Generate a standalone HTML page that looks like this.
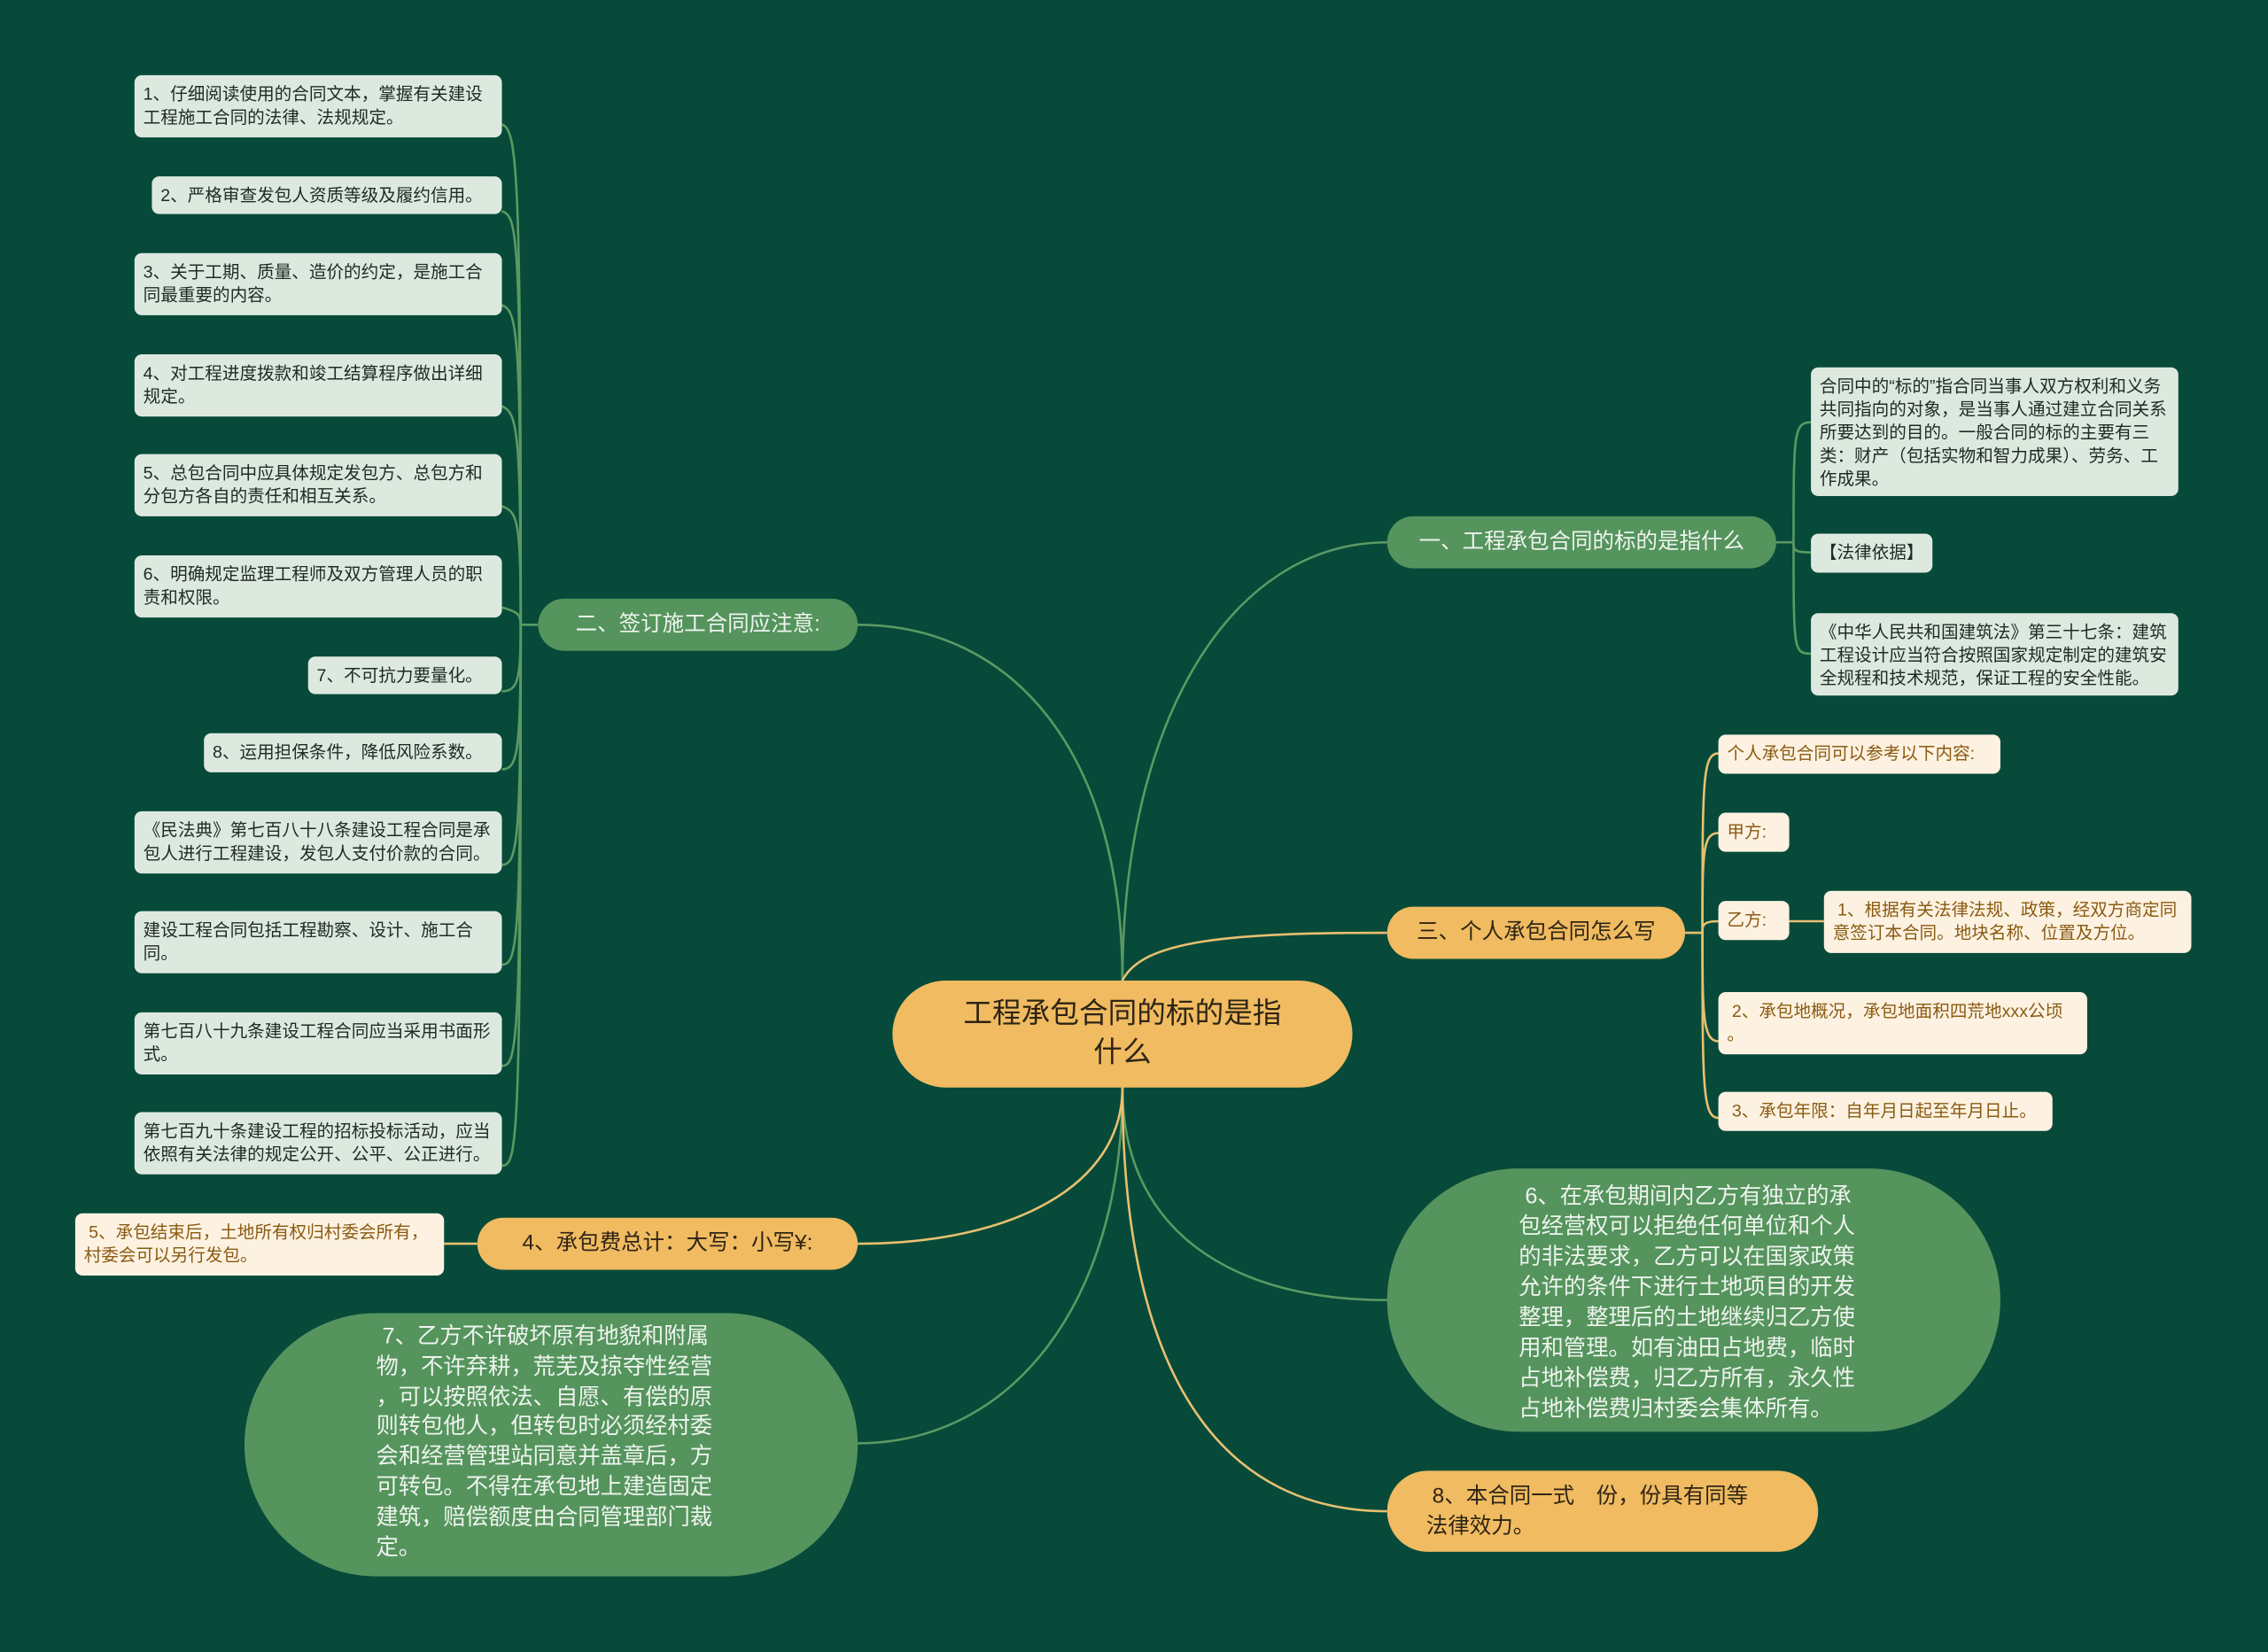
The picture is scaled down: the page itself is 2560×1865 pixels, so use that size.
<!DOCTYPE html>
<html><head><meta charset="utf-8"><style>
html,body{margin:0;padding:0;background:#074a3a;}
#wrap{position:relative;width:2560px;height:1865px;overflow:hidden;background:#074a3a;}
#s{position:absolute;left:0;top:0;width:1568px;height:1142px;transform:scale(1.632653);transform-origin:0 0;font-family:"Liberation Sans","Noto Sans CJK SC",sans-serif;}
.n{position:absolute;box-sizing:border-box;}
.lf{background:#dde9df;color:#1e2a22;font-size:12px;line-height:16px;border-radius:5px;padding:5px 6px;}
.cr{background:#fdf2e1;color:#8a5a12;font-size:12px;line-height:16px;border-radius:5px;padding:5px 6px;}
.gb{background:#55945d;color:#eef4ee;font-size:15px;border-radius:18px;text-align:center;line-height:36px;}
.ob{background:#f0bb61;color:#2e2414;font-size:15px;border-radius:18px;text-align:center;line-height:36px;}
svg{position:absolute;left:0;top:0;}
</style></head><body><div id="wrap"><div id="s">
<svg width="1568" height="1142" fill="none" stroke-width="1.6">
<g stroke="#5a9a62">
<path d="M776 678 C776 500 850 375 959 375"/>
<path d="M776 678 C776 520 700 432 593 432"/>
<path d="M776 752 C776 850 850 899 959 899"/>
<path d="M776 752 C776 900 700 998 593 998"/>
<path d="M1228 375 L1240 375"/>
<path d="M1240 375 C1240 300 1240 292 1252 292"/>
<path d="M1240 375 C1240 380 1240 382 1252 382"/>
<path d="M1240 375 C1240 450 1240 452 1252 452"/>
<path d="M372 432 L360 432"/>
<path d="M360 432 C360 120 358 90 347 86"/>
<path d="M360 432 C360 160 358 150 347 146"/>
<path d="M360 432 C360 230 358 215 347 211"/>
<path d="M360 432 C360 300 358 285 347 281"/>
<path d="M360 432 C360 360 358 354 347 350"/>
<path d="M360 432 C360 425 358 423 347 420"/>
<path d="M360 432 C360 470 358 478 347 478"/>
<path d="M360 432 C360 520 358 532 347 532"/>
<path d="M360 432 C360 580 358 598 347 598"/>
<path d="M360 432 C360 650 358 667 347 667"/>
<path d="M360 432 C360 720 358 737 347 737"/>
<path d="M360 432 C360 790 358 806 347 806"/>
</g>
<g stroke="#e8c070">
<path d="M776 678 C790 650 850 645 959 645"/>
<path d="M776 752 C776 820 700 860 593 860"/>
<path d="M776 752 C776 960 850 1045 959 1045"/>
<path d="M1165 645 L1177 645"/>
<path d="M1177 645 C1177 540 1177 521 1188 521"/>
<path d="M1177 645 C1177 590 1177 576 1188 576"/>
<path d="M1177 645 C1177 640 1177 637 1188 637"/>
<path d="M1177 645 C1177 700 1177 720 1188 720"/>
<path d="M1177 645 C1177 750 1177 773 1188 773"/>
<path d="M1237 637 L1261 637"/>
<path d="M330 860 L307 860"/>
</g>
</svg>
<div class="n ob" style="left:617px;top:678px;width:318px;height:74px;border-radius:37px;font-size:20px;line-height:27px;padding-top:10px;">工程承包合同的标的是指<br>什么</div>
<div class="n gb" style="left:959px;top:357px;width:269px;height:36px;">一、工程承包合同的标的是指什么</div>
<div class="n lf" style="left:1252px;top:254px;width:254px;height:89px;">合同中的“标的”指合同当事人双方权利和义务共同指向的对象，是当事人通过建立合同关系所要达到的目的。一般合同的标的主要有三类：财产（包括实物和智力成果）、劳务、工作成果。</div>
<div class="n lf" style="left:1252px;top:369px;width:84px;height:27px;">【法律依据】</div>
<div class="n lf" style="left:1252px;top:424px;width:254px;height:57px;">《中华人民共和国建筑法》第三十七条：建筑工程设计应当符合按照国家规定制定的建筑安全规程和技术规范，保证工程的安全性能。</div>
<div class="n gb" style="left:372px;top:414px;width:221px;height:36px;">二、签订施工合同应注意:</div>
<div class="n lf" style="left:93px;top:52px;width:254px;height:43px;">1、仔细阅读使用的合同文本，掌握有关建设工程施工合同的法律、法规规定。</div>
<div class="n lf" style="left:105px;top:122px;width:242px;height:26px;">2、严格审查发包人资质等级及履约信用。</div>
<div class="n lf" style="left:93px;top:175px;width:254px;height:43px;">3、关于工期、质量、造价的约定，是施工合同最重要的内容。</div>
<div class="n lf" style="left:93px;top:245px;width:254px;height:43px;">4、对工程进度拨款和竣工结算程序做出详细规定。</div>
<div class="n lf" style="left:93px;top:314px;width:254px;height:43px;">5、总包合同中应具体规定发包方、总包方和分包方各自的责任和相互关系。</div>
<div class="n lf" style="left:93px;top:384px;width:254px;height:43px;">6、明确规定监理工程师及双方管理人员的职责和权限。</div>
<div class="n lf" style="left:213px;top:454px;width:134px;height:26px;">7、不可抗力要量化。</div>
<div class="n lf" style="left:141px;top:507px;width:206px;height:27px;">8、运用担保条件，降低风险系数。</div>
<div class="n lf" style="left:93px;top:561px;width:254px;height:43px;">《民法典》第七百八十八条建设工程合同是承包人进行工程建设，发包人支付价款的合同。</div>
<div class="n lf" style="left:93px;top:630px;width:254px;height:43px;">建设工程合同包括工程勘察、设计、施工合同。</div>
<div class="n lf" style="left:93px;top:700px;width:254px;height:43px;">第七百八十九条建设工程合同应当采用书面形式。</div>
<div class="n lf" style="left:93px;top:769px;width:254px;height:43px;">第七百九十条建设工程的招标投标活动，应当依照有关法律的规定公开、公平、公正进行。</div>
<div class="n ob" style="left:959px;top:627px;width:206px;height:36px;">三、个人承包合同怎么写</div>
<div class="n cr" style="left:1188px;top:508px;width:195px;height:27px;">个人承包合同可以参考以下内容:</div>
<div class="n cr" style="left:1188px;top:562px;width:49px;height:27px;">甲方:</div>
<div class="n cr" style="left:1188px;top:623px;width:49px;height:27px;">乙方:</div>
<div class="n cr" style="left:1261px;top:616px;width:254px;height:43px;">&nbsp;1、根据有关法律法规、政策，经双方商定同意签订本合同。地块名称、位置及方位。</div>
<div class="n cr" style="left:1188px;top:686px;width:255px;height:43px;">&nbsp;2、承包地概况，承包地面积四荒地xxx公顷<br>。</div>
<div class="n cr" style="left:1188px;top:755px;width:231px;height:27px;">&nbsp;3、承包年限：自年月日起至年月日止。</div>
<div class="n ob" style="left:330px;top:842px;width:263px;height:36px;">4、承包费总计：大写：小写¥:</div>
<div class="n cr" style="left:52px;top:839px;width:255px;height:43px;">&nbsp;5、承包结束后，土地所有权归村委会所有，村委会可以另行发包。</div>
<div class="n gb" style="left:959px;top:808px;width:424px;height:182px;border-radius:91px;line-height:21px;text-align:left;font-size:15.5px;padding:9px 0 0 91px;">&nbsp;6、在承包期间内乙方有独立的承<br>包经营权可以拒绝任何单位和个人<br>的非法要求，乙方可以在国家政策<br>允许的条件下进行土地项目的开发<br>整理，整理后的土地继续归乙方使<br>用和管理。如有油田占地费，临时<br>占地补偿费，归乙方所有，永久性<br>占地补偿费归村委会集体所有。</div>
<div class="n gb" style="left:169px;top:908px;width:424px;height:182px;border-radius:91px;line-height:20.8px;text-align:left;font-size:15.5px;padding:7px 0 0 91px;">&nbsp;7、乙方不许破坏原有地貌和附属<br>物，不许弃耕，荒芜及掠夺性经营<br>，可以按照依法、自愿、有偿的原<br>则转包他人，但转包时必须经村委<br>会和经营管理站同意并盖章后，方<br>可转包。不得在承包地上建造固定<br>建筑，赔偿额度由合同管理部门裁<br>定。</div>
<div class="n ob" style="left:959px;top:1017px;width:298px;height:56px;border-radius:28px;line-height:21px;text-align:left;padding:7px 0 0 27px;">&nbsp;8、本合同一式　份，份具有同等<br>法律效力。</div>
</div></div></body></html>
